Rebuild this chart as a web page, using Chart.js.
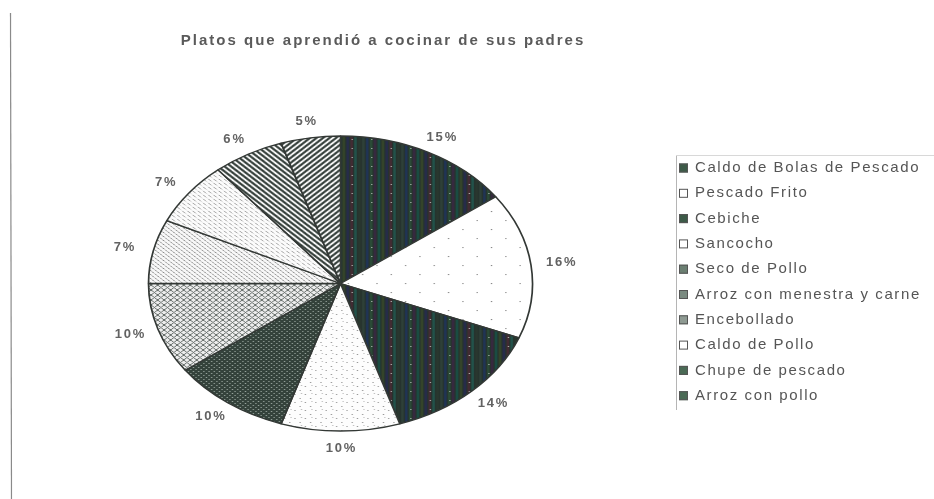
<!DOCTYPE html>
<html><head><meta charset="utf-8">
<script src="https://cdn.jsdelivr.net/npm/chart.js@4.4.0/dist/chart.umd.min.js"></script>
<style>html,body{margin:0;padding:0;background:#fff;}#wrap{width:934px;height:499px;position:relative;}</style>
</head><body><div id="wrap"><canvas id="c" width="934" height="499"></canvas></div>
<script>
const titleText = 'Platos que aprendió a cocinar de sus padres';
const categories = ['Caldo de Bolas de Pescado','Pescado Frito','Cebiche','Sancocho','Seco de Pollo','Arroz con menestra y carne','Encebollado','Caldo de Pollo','Chupe de pescado','Arroz con pollo'];
const percentages = [15,16,14,10,10,10,7,7,6,5];
const percentLabels = ['15%','16%','14%','10%','10%','10%','7%','7%','6%','5%'];

// ---- styles ----
function makePattern(w,h,draw){const c=document.createElement('canvas');c.width=w;c.height=h;const g=c.getContext('2d');draw(g,w,h);return g.createPattern(c,'repeat');}
const pDark = makePattern(30,9,(g,w,h)=>{g.fillStyle='#26332e';g.fillRect(0,0,w,h);const cols=['#203455','#2a4a36','#36293f','#1a4c42','#34442a','#262c4a','#432b33','#22524a','#29372f','#2e4038'];for(let i=0;i<w;i+=3){g.fillStyle=cols[(i/3)%cols.length];g.fillRect(i,0,2,h);}g.fillStyle='rgba(215,220,215,0.75)';g.fillRect(4,4,1,1);g.fillRect(19,4,1,1);});
const pSparse = makePattern(22,18,(g,w,h)=>{g.fillStyle='#fff';g.fillRect(0,0,w,h);g.fillStyle='#8a8a8a';g.fillRect(5,4,1,1);g.fillRect(16,13,1,1);});
const pDots = makePattern(8,8,(g,w,h)=>{g.fillStyle='#fdfdfd';g.fillRect(0,0,w,h);g.fillStyle='#999';g.fillRect(1,2,1,1);g.fillRect(5,6,1,1);g.fillStyle='#c0c0c0';g.fillRect(6,1,1,1);});
const pDarkHatch = makePattern(4,4,(g,w,h)=>{g.fillStyle='#34423b';g.fillRect(0,0,w,h);g.fillStyle='#96a29b';g.fillRect(1,1,1,1);g.fillRect(3,3,1,1);});
const pLightHatch = makePattern(5,5,(g,w,h)=>{g.fillStyle='#ededed';g.fillRect(0,0,w,h);g.strokeStyle='#6a716d';g.lineWidth=1;g.beginPath();g.moveTo(0,0);g.lineTo(5,5);g.moveTo(5,0);g.lineTo(0,5);g.stroke();});
function diag(w,color,bg,lw,down,dash){return makePattern(w,w,(g)=>{g.fillStyle=bg;g.fillRect(0,0,w,w);g.strokeStyle=color;g.lineWidth=lw;if(dash)g.setLineDash(dash);g.beginPath();if(down){g.moveTo(-w,0);g.lineTo(w,2*w);g.moveTo(0,0);g.lineTo(w,w);g.moveTo(0,-w);g.lineTo(2*w,w);}else{g.moveTo(0,w);g.lineTo(w,0);g.moveTo(-w,w);g.lineTo(w,-w);g.moveTo(0,2*w);g.lineTo(2*w,0);}g.stroke();});}
const pEnce = diag(4,'#8a8a8a','#f8f8f8',1,true,[2,1]);
const pCaldoPollo = diag(4,'#a8a8a8','#fcfcfc',1,true,[2,2]);
const pChupe = diag(5,'#2b3631','#ffffff',1.9,true);
const pArroz = diag(5,'#2b3631','#ffffff',1.9,false);
const sliceFills = [pDark,pSparse,pDark,pDots,pDarkHatch,pLightHatch,pEnce,pCaldoPollo,pChupe,pArroz];
const legendFills = ['#3d5a48','#ffffff','#3d5a48','#ffffff','#6b7f72','#7a8a80','#8e9a92','#ffffff','#4a6a55','#4a6a55'];
const SX = 192/147.5;

const ellipsePlugin = {id:'ellipse',
  beforeDatasetsDraw(chart){const a=chart.getDatasetMeta(0).data[0];const g=chart.ctx;g.save();g.translate(a.x,a.y);g.scale(SX,1);g.translate(-a.x,-a.y);},
  afterDatasetsDraw(chart){chart.ctx.restore();}
};
const decoPlugin = {id:'deco',
  afterDraw(chart){
    const g=chart.ctx;const meta=chart.getDatasetMeta(0);
    g.save();
    g.strokeStyle='#8a8a8a';g.lineWidth=1.2;g.beginPath();g.moveTo(10.5,13);g.lineTo(11.5,499);g.stroke();
    g.fillStyle='#5a5a5a';g.font='bold 15px "Liberation Sans", Arial, sans-serif';g.letterSpacing='2px';g.textAlign='center';g.textBaseline='middle';
    g.fillText(titleText,383,41);
    g.font='bold 13px "Liberation Sans", Arial, sans-serif';g.letterSpacing='1.8px';g.fillStyle='#626262';
    meta.data.forEach((arc,i)=>{const m=(arc.startAngle+arc.endAngle)/2;const x=arc.x+Math.cos(m)*(arc.outerRadius*SX+30);const y=arc.y+Math.sin(m)*(arc.outerRadius+17);g.fillText(percentLabels[i],x+1,y);});
    g.strokeStyle='#b5b5b5';g.lineWidth=1;g.beginPath();g.moveTo(676.5,155);g.lineTo(676.5,410);g.stroke();
    g.strokeStyle='#d8d8d8';g.beginPath();g.moveTo(676,155.5);g.lineTo(934,155.5);g.stroke();
    g.textAlign='left';g.font='15px "Liberation Sans", Arial, sans-serif';g.letterSpacing='1.6px';
    categories.forEach((lab,i)=>{const y=168+i*25.3;g.fillStyle=legendFills[i];g.fillRect(679,y-4.5,9,9);g.strokeStyle='#555';g.lineWidth=1;g.strokeRect(679.5,y-4,8,8);g.fillStyle='#555';g.fillText(lab,695,y);});
    g.restore();
  }
};
new Chart(document.getElementById('c'),{
  type:'pie',
  data:{labels:categories,datasets:[{data:percentages,backgroundColor:sliceFills,borderColor:'#333835',borderWidth:1.3,radius:147.5}]},
  options:{responsive:false,animation:false,layout:{padding:{left:0,right:253,top:68,bottom:0}},
    plugins:{legend:{display:false},tooltip:{enabled:false},title:{display:false}}},
  plugins:[ellipsePlugin,decoPlugin]
});
</script></body></html>
